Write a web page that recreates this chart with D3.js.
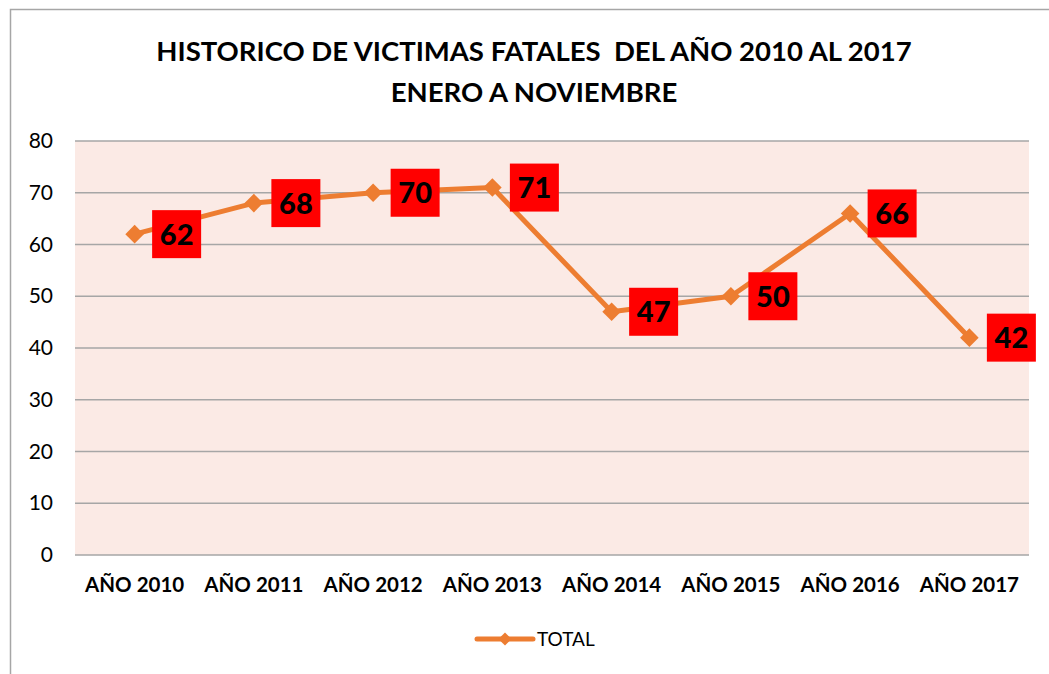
<!DOCTYPE html>
<html>
<head>
<meta charset="utf-8">
<script src="https://cdn.jsdelivr.net/npm/d3@7"></script>
<style>
  body { margin: 0; background: #fff; }
  svg { display: block; font-family: Lato, "Open Sans", sans-serif; }
  .title { white-space: pre; }
</style>
</head>
<body>
<div id="chart"></div>
<script>
// DATA
const categories = ["AÑO 2010", "AÑO 2011", "AÑO 2012", "AÑO 2013", "AÑO 2014", "AÑO 2015", "AÑO 2016", "AÑO 2017"];
const totals = [62, 68, 70, 71, 47, 50, 66, 42];
const yTicks = [0, 10, 20, 30, 40, 50, 60, 70, 80];
const seriesName = "TOTAL";
const titleLines = ["HISTORICO DE VICTIMAS FATALES  DEL AÑO 2010 AL 2017", "ENERO A NOVIEMBRE"];

const width = 1049, height = 674;
const margin = { top: 141, right: 20, bottom: 119, left: 75 };
const plotW = 1029 - margin.left;
const plotH = 555 - margin.top;
const orange = "#ED7D31";

const svg = d3.select("#chart").append("svg")
    .attr("width", width)
    .attr("height", height);

// marco exterior
svg.append("rect")
    .attr("x", 10.5).attr("y", 9.5)
    .attr("width", 1060).attr("height", 700)
    .attr("fill", "none")
    .attr("stroke", "#A6A6A6")
    .attr("stroke-width", 1.5);

// TITLE
svg.append("g").selectAll("text")
    .data(titleLines)
    .enter().append("text")
    .attr("class", "title")
    .attr("x", 534)
    .attr("y", (d, i) => 61 + i * 41)
    .attr("text-anchor", "middle")
    .attr("font-weight", "bold")
    .attr("font-size", 27.5)
    .attr("fill", "#000")
    .text(d => d);

const g = svg.append("g")
    .attr("transform", `translate(${margin.left}, ${margin.top})`);

const xScale = d3.scaleBand()
    .domain(categories)
    .range([0, plotW]);

const yScale = d3.scaleLinear()
    .domain([0, 80])
    .range([plotH, 0]);

// fondo
g.append("rect")
    .attr("width", plotW)
    .attr("height", plotH)
    .attr("fill", "#FBEAE5");

// GRID
g.append("g")
    .selectAll("line")
    .data(yTicks)
    .enter().append("line")
    .attr("x1", 0).attr("x2", plotW)
    .attr("y1", d => yScale(d)).attr("y2", d => yScale(d))
    .attr("stroke", "#A6A6A6")
    .attr("stroke-width", 1.5);

// Y AXIS
const yAxis = d3.axisLeft(yScale).tickValues(yTicks).tickSize(0).tickPadding(22);
const yAxisGroup = g.append("g").call(yAxis);
yAxisGroup.select(".domain").remove();
yAxisGroup.selectAll("text")
    .attr("font-family", "Lato, 'Open Sans', sans-serif")
    .attr("font-size", 21)
    .attr("fill", "#000");

// X AXIS
const xAxis = d3.axisBottom(xScale).tickSize(0).tickPadding(22);
const xAxisGroup = g.append("g")
    .attr("transform", `translate(0, ${plotH})`)
    .call(xAxis);
xAxisGroup.select(".domain").remove();
xAxisGroup.selectAll("text")
    .attr("font-family", "Lato, 'Open Sans', sans-serif")
    .attr("font-size", 20.5)
    .attr("font-weight", "bold")
    .attr("fill", "#000");

// LINE
const cx = d => xScale(d) + xScale.bandwidth() / 2;
const line = d3.line()
    .x((d, i) => cx(categories[i]))
    .y(d => yScale(d));

g.append("path")
    .datum(totals)
    .attr("d", line)
    .attr("fill", "none")
    .attr("stroke", orange)
    .attr("stroke-width", 5)
    .attr("stroke-linejoin", "round");

const diamond = d3.symbol().type(d3.symbolDiamond2).size(220);
g.append("g").selectAll("path")
    .data(totals)
    .enter().append("path")
    .attr("d", diamond)
    .attr("transform", (d, i) => `translate(${cx(categories[i])}, ${yScale(d)})`)
    .attr("fill", orange);

// LABELS
const labels = g.append("g").selectAll("g")
    .data(totals)
    .enter().append("g")
    .attr("transform", (d, i) => `translate(${cx(categories[i]) + 42}, ${yScale(d)})`);

labels.append("rect")
    .attr("x", -24.5).attr("y", -24)
    .attr("width", 49).attr("height", 48)
    .attr("fill", "#FF0000");

labels.append("text")
    .attr("text-anchor", "middle")
    .attr("dy", "0.36em")
    .attr("font-size", 29)
    .attr("font-weight", 900)
    .attr("fill", "#000")
    .text(d => d);

// LEGEND
const legend = svg.append("g").attr("transform", "translate(477, 639)");
legend.append("line")
    .attr("x1", 0).attr("x2", 56)
    .attr("stroke", orange)
    .attr("stroke-width", 5)
    .attr("stroke-linecap", "round");
legend.append("path")
    .attr("d", d3.symbol().type(d3.symbolDiamond2).size(110))
    .attr("transform", "translate(28, 0)")
    .attr("fill", orange);
legend.append("text")
    .attr("x", 60)
    .attr("dy", "0.36em")
    .attr("font-size", 19)
    .attr("fill", "#000")
    .text(seriesName);
</script>
</body>
</html>
